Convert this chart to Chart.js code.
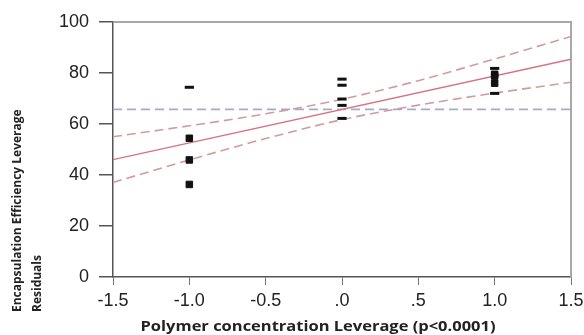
<!DOCTYPE html>
<html>
<head>
<meta charset="utf-8">
<script src="https://cdn.jsdelivr.net/npm/chart.js@4.4.1/dist/chart.umd.min.js"></script>
<style>
  html, body { margin: 0; padding: 0; background: #fff; }
  #wrap { width: 584px; height: 335px; position: relative; }
</style>
</head>
<body>
<div id="wrap"><canvas id="leverageChart" width="584" height="335"></canvas></div>
<script>
// leverage residuals per polymer concentration level
const levels = [-1, -1, -1, -1, 0, 0, 0, 0, 0, 1, 1, 1, 1, 1];
const residuals = [74.4, 54.4, 45.9, 36.3, 77.6, 75.2, 69.8, 67.3, 62.2, 81.8, 79.5, 78.8, 76.0, 72.0];
const markerShapes = ['dash', 'square', 'square', 'square', 'dash', 'dash', 'dash', 'dash', 'dash',
                      'dash', 'square', 'square', 'square', 'dash'];

// fitted line, its confidence curves and the mean response
const fitX = [-1.5, 1.5];
const fitY = [46.0, 85.4];
const bandX = [-1.5, -1.0, -0.5, 0, 0.5, 1.0, 1.5];
const upperY = [55.0, 59.3, 64.0, 69.7, 77.0, 85.5, 94.3];
const lowerY = [37.1, 45.9, 54.3, 61.7, 67.4, 72.1, 76.4];
const meanY = 65.7;

const xTickValues = [-1.5, -1.0, -0.5, 0, 0.5, 1.0, 1.5];
const xTickLabels = ['-1.5', '-1.0', '-0.5', '.0', '.5', '1.0', '1.5'];
const yTicks = [0, 20, 40, 60, 80, 100];

const xTitle = 'Polymer concentration Leverage (p<0.0001)';
const yTitle = ['Encapsulation Efficiency Leverage', 'Residuals'];

function toPoints(xs, ys) {
    return xs.map((x, i) => ({ x: x, y: ys[i] }));
}

// draws text squeezed/stretched horizontally to a given width
function fitText(ctx, text, x, y, width) {
    const w = ctx.measureText(text).width;
    ctx.save();
    ctx.translate(x, y);
    ctx.scale(width / w, 1);
    ctx.fillText(text, 0, 0);
    ctx.restore();
}

// frame on top/right plus the axis titles
const decorations = {
    id: 'decorations',
    beforeDatasetsDraw(chart) {
        const a = chart.chartArea;
        const ctx = chart.ctx;
        ctx.save();
        ctx.strokeStyle = '#a8a8a8';
        ctx.lineWidth = 2;
        ctx.beginPath();
        ctx.moveTo(a.left, a.top);
        ctx.lineTo(a.right, a.top);
        ctx.lineTo(a.right, a.bottom);
        ctx.stroke();
        ctx.restore();
    },
    afterDraw(chart) {
        const ctx = chart.ctx;
        ctx.save();
        ctx.fillStyle = '#222';
        ctx.font = 'bold 14px "Open Sans"';
        ctx.textAlign = 'center';
        ctx.textBaseline = 'middle';
        fitText(ctx, xTitle, 318, 327, 355);

        ctx.font = 'bold 12px "Open Sans"';
        ctx.textAlign = 'left';
        [18, 38].forEach((cx, i) => {
            ctx.save();
            ctx.translate(cx, 312);
            ctx.rotate(-Math.PI / 2);
            ctx.fillText(yTitle[i], 0, 0);
            ctx.restore();
        });
        ctx.restore();
    }
};

const ctx = document.getElementById('leverageChart').getContext('2d');

new Chart(ctx, {
    type: 'scatter',
    data: {
        datasets: [
            {
                label: 'Residuals',
                data: toPoints(levels, residuals),
                backgroundColor: '#111',
                borderColor: '#111',
                pointStyle: c => markerShapes[c.dataIndex] === 'dash' ? 'line' : 'rect',
                pointRadius: 4.6,
                pointBorderWidth: c => markerShapes[c.dataIndex] === 'dash' ? 3 : 1,
                pointHoverRadius: 4.6
            },
            {
                label: 'Fit',
                type: 'line',
                data: toPoints(fitX, fitY),
                borderColor: '#d9707e',
                borderWidth: 1.3,
                pointRadius: 0
            },
            {
                label: 'Upper',
                type: 'line',
                data: toPoints(bandX, upperY),
                borderColor: '#d29aa2',
                borderWidth: 1.6,
                borderDash: [9, 5],
                cubicInterpolationMode: 'monotone',
                pointRadius: 0
            },
            {
                label: 'Lower',
                type: 'line',
                data: toPoints(bandX, lowerY),
                borderColor: '#d29aa2',
                borderWidth: 1.6,
                borderDash: [9, 5],
                cubicInterpolationMode: 'monotone',
                pointRadius: 0
            },
            {
                label: 'Mean',
                type: 'line',
                data: toPoints(fitX, [meanY, meanY]),
                borderColor: '#a9abc6',
                borderWidth: 1.8,
                borderDash: [9, 5],
                pointRadius: 0
            }
        ]
    },
    options: {
        responsive: false,
        animation: false,
        events: [],
        layout: { padding: { top: 22, right: 13, left: 0, bottom: 0 } },
        plugins: {
            legend: { display: false },
            tooltip: { enabled: false }
        },
        scales: {
            x: {
                type: 'linear',
                min: -1.5,
                max: 1.5,
                afterBuildTicks: scale => {
                    scale.ticks = xTickValues.map(v => ({ value: v }));
                },
                afterFit: scale => {
                    scale.height = 58;
                    // let the last label run into the right margin
                    scale.paddingRight = 0;
                    scale.paddingLeft = 0;
                },
                ticks: {
                    color: '#222',
                    font: { family: 'Liberation Sans', size: 18 },
                    padding: 5,
                    maxRotation: 0,
                    autoSkip: false,
                    callback: v => xTickLabels[xTickValues.indexOf(v)]
                },
                grid: {
                    drawOnChartArea: false,
                    drawTicks: true,
                    tickLength: 8,
                    color: '#777'
                },
                border: { color: '#555', width: 1.5 }
            },
            y: {
                min: 0,
                max: 100,
                afterBuildTicks: scale => {
                    scale.ticks = yTicks.map(v => ({ value: v }));
                },
                afterFit: scale => { scale.width = 113; },
                ticks: {
                    color: '#222',
                    font: { family: 'Liberation Sans', size: 18 },
                    padding: 10,
                    autoSkip: false
                },
                grid: {
                    drawOnChartArea: false,
                    drawTicks: true,
                    tickLength: 14,
                    color: '#555',
                    lineWidth: 1.5
                },
                border: { color: '#555', width: 1.5 }
            }
        }
    },
    plugins: [decorations]
});
</script>
</body>
</html>
